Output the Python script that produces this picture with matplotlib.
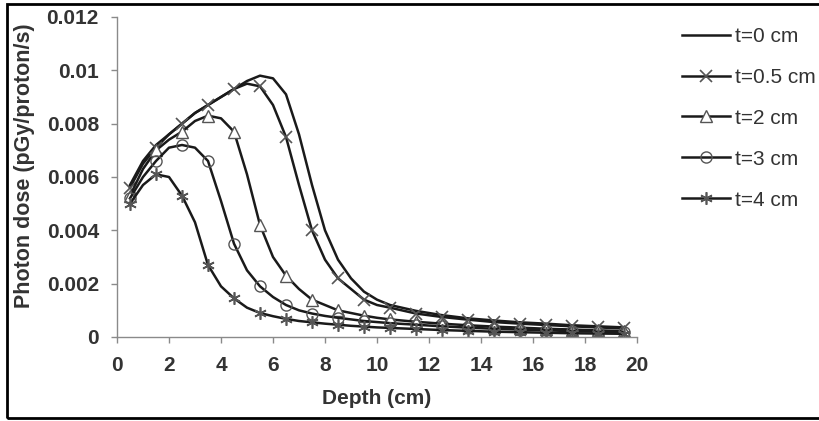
import matplotlib
matplotlib.use("Agg")
import matplotlib.pyplot as plt
from matplotlib.patches import Rectangle

# ---- data ----
depth = [0.5, 1, 1.5, 2, 2.5, 3, 3.5, 4, 4.5, 5, 5.5, 6, 6.5, 7, 7.5, 8, 8.5, 9, 9.5, 10,
         10.5, 11.5, 12.5, 13.5, 14.5, 15.5, 16.5, 17.5, 18.5, 19.5]

dose_t0 = [0.0057, 0.0066, 0.0072, 0.0076, 0.0080, 0.0084, 0.0087, 0.0090, 0.0093, 0.0096,
           0.0098, 0.0097, 0.0091, 0.0076, 0.0057, 0.0040, 0.0029, 0.0022, 0.0017, 0.0014,
           0.0012, 0.00098, 0.00082, 0.0007, 0.00062, 0.00055, 0.0005, 0.00044, 0.0004, 0.00036]
dose_t05 = [0.0056, 0.0065, 0.0071, 0.0076, 0.0080, 0.0084, 0.0087, 0.0090, 0.0093, 0.0095,
            0.0094, 0.0087, 0.0075, 0.0057, 0.0040, 0.0029, 0.0022, 0.0018, 0.0014, 0.0012,
            0.0011, 0.00088, 0.00075, 0.00065, 0.00056, 0.0005, 0.00045, 0.0004, 0.00036, 0.00032]
dose_t2 = [0.0053, 0.0063, 0.0070, 0.0074, 0.0077, 0.0081, 0.0083, 0.0082, 0.0077, 0.0061,
           0.0042, 0.0030, 0.0023, 0.0018, 0.0014, 0.0012, 0.0010, 0.0009, 0.0008, 0.00072,
           0.00066, 0.00057, 0.0005, 0.00044, 0.00039, 0.00035, 0.00031, 0.00028, 0.00025, 0.00022]
dose_t3 = [0.0052, 0.0060, 0.0066, 0.0071, 0.0072, 0.0071, 0.0066, 0.0051, 0.0035, 0.0025,
           0.0019, 0.0015, 0.0012, 0.0010, 0.00088, 0.00079, 0.00072, 0.00066, 0.0006, 0.00056,
           0.00052, 0.00046, 0.0004, 0.00035, 0.00031, 0.00028, 0.00025, 0.00022, 0.0002, 0.00018]
dose_t4 = [0.0050, 0.0057, 0.0061, 0.0060, 0.0053, 0.0043, 0.0027, 0.0019, 0.00145, 0.0011,
           0.0009, 0.00078, 0.00068, 0.0006, 0.00055, 0.0005, 0.00046, 0.00042, 0.00039, 0.00036,
           0.00034, 0.0003, 0.00026, 0.00023, 0.0002, 0.00018, 0.00016, 0.00014, 0.00013, 0.00012]

series_labels = ["t=0 cm", "t=0.5 cm", "t=2 cm", "t=3 cm", "t=4 cm"]
x_ticks = [0, 2, 4, 6, 8, 10, 12, 14, 16, 18, 20]
y_ticks = [0, 0.002, 0.004, 0.006, 0.008, 0.01, 0.012]
y_ticklabels = ["0", "0.002", "0.004", "0.006", "0.008", "0.01", "0.012"]

# ---- figure ----
W, H = 819, 421
plt.rcParams["font.family"] = ["Liberation Sans", "DejaVu Sans"]
fig = plt.figure(figsize=(W / 100, H / 100), dpi=100)
fig.patch.set_facecolor("white")
ax = fig.add_axes([117 / W, 1 - 337 / H, (637 - 117) / W, (337 - 17) / H])

# marker positions: the .5 depths
mark_idx = [i for i, d in enumerate(depth) if (d % 1) == 0.5]

line_col = "#1a1a1a"
mk_col = "#555555"
styles = [
    dict(marker=None),
    dict(marker="x", ms=8, mew=1.2),
    dict(marker="^", ms=8, mew=1.0, mfc="white"),
    dict(marker="o", ms=8, mew=1.0, mfc="none"),
    dict(marker=(6, 2, 0), ms=9, mew=1.2),
]
all_series = [dose_t0, dose_t05, dose_t2, dose_t3, dose_t4]
handles = []
for vals, lab, st in zip(all_series, series_labels, styles):
    kw = dict(color=line_col, lw=1.8, label=lab)
    if st["marker"] is not None:
        kw.update(st)
        kw["mec"] = mk_col
        kw["markevery"] = mark_idx
    h, = ax.plot(depth, vals, **kw)
    handles.append(h)

ax.set_xlim(0, 20)
ax.set_ylim(0, 0.012)
ax.set_xticks(x_ticks)
ax.set_xticklabels([str(v) for v in x_ticks])
ax.set_yticks(y_ticks)
ax.set_yticklabels(y_ticklabels)

for s in ["top", "right"]:
    ax.spines[s].set_visible(False)
for s in ["left", "bottom"]:
    ax.spines[s].set_color("#8a8a8a")
    ax.spines[s].set_linewidth(1.0)

ax.tick_params(axis="both", direction="out", color="#8a8a8a", length=4, width=1,
               labelsize=15, labelcolor="#333333")
ax.tick_params(axis="x", pad=10)
ax.tick_params(axis="y", pad=9)
for lbl in ax.get_xticklabels() + ax.get_yticklabels():
    lbl.set_fontweight("bold")

ax.set_xlabel("Depth (cm)", fontsize=15, fontweight="bold", color="#333333", labelpad=10)
ax.set_ylabel("Photon dose (pGy/proton/s)", fontsize=15.5, fontweight="bold", color="#333333")
ax.yaxis.set_label_coords(-0.157, 0.535)

leg = fig.legend(handles=handles, loc="upper left", bbox_to_anchor=(682 / W, 1 - 27 / H),
                 frameon=False, fontsize=15, handlelength=2.3, handletextpad=0.25,
                 labelspacing=1.05, borderpad=0, borderaxespad=0)
for t in leg.get_texts():
    t.set_color("#333333")

# outer black border (right edge lies beyond the canvas, as in the reference)
fig.patches.append(Rectangle((7 / W, 3 / H), (830 - 7) / W, (417 - 3) / H,
                             transform=fig.transFigure, fill=False, ec="black", lw=2,
                             zorder=0))

fig.savefig("out.png", dpi=100, facecolor="white")
